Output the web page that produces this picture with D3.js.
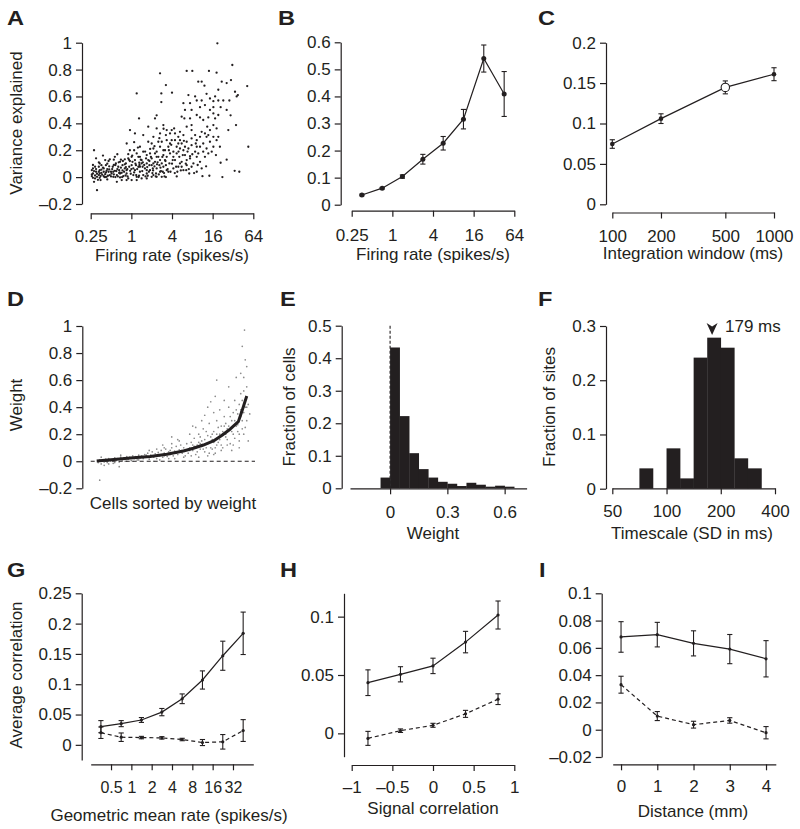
<!DOCTYPE html>
<html><head><meta charset="utf-8">
<script src="https://cdn.jsdelivr.net/npm/d3@7"></script>
<style>body{margin:0;background:#fff}svg{display:block}</style>
</head><body><svg id="c" width="800" height="829"></svg>
<script>
// ---------- DATA ----------
// A: variance explained vs firing rate (one point per cell)
const scatterA = [
[18.8,0.995],[31.3,0.834],[29.9,0.722],[14.1,0.79],[18.3,0.777],[6.6,0.79],[8.0,0.79],[2.66,0.772],[3.25,0.685],[2.78,0.623],[1.2,0.623],[4.0,0.628],[2.78,0.558],[52,0.677],[54,0.226],[35.5,0.387],[33.9,0.047],[39.7,0.04],[22.3,0.0],[14.3,0.01],[11.3,0.007],[21,0.107],[25.8,0.13],[27.3,0.35],[29.5,0.46],[25.8,0.5],[28.3,0.57],[21,0.52],[19.4,0.57],[16.4,0.565],[14.6,0.585],[17.4,0.6],[13.0,0.62],[11.0,0.57],[9.3,0.57],[8.8,0.6],[9.8,0.71],[11.0,0.71],[12.1,0.68],[19.4,0.65],[21.8,0.71],[25.8,0.70],[34.3,0.635],[36.3,0.6],[37.8,0.61],[23.0,0.57],[7.8,0.5],[7.4,0.55],[7.0,0.61],[7.4,0.437],[6.1,0.437],[10.4,0.444],[13.8,0.444],[16.4,0.474],[17.4,0.437],[19.4,0.462],[13.3,0.375],[16.4,0.387],[11.0,0.337],[12.3,0.325],[13.8,0.313],[16.4,0.3],[18.3,0.275],[9.3,0.275],[7.8,0.288],[7.8,0.238],[10.4,0.226],[13.0,0.213],[16.4,0.226],[15.5,0.189],[17.9,0.164],[12.3,0.151],[9.3,0.151],[7.4,0.156],[6.6,0.127],[5.56,0.114],[8.3,0.102],[10.4,0.114],[13.8,0.176],[11.0,0.065],[9.3,0.04],[7.8,0.077],[6.6,0.089],[5.9,0.052],[4.8,0.04],[4.19,0.065],[3.53,0.04],[3.25,0.0],[2.98,0.164],[4.19,0.189],[2.37,0.362],[2.98,0.387],[3.34,0.35],[3.96,0.35],[4.3,0.362],[2.66,0.325],[2.37,0.46],[2.24,0.437],[1.3,0.437],[1.78,0.375],[2.12,0.3],[1.5,0.313],[0.955,0.35],[1.13,0.325],[0.853,0.25],[1.34,0.226],[5.56,0.45],[5.9,0.55],[6.23,0.5],[5.25,0.337],[4.96,0.3],[6.6,0.375],[6.23,0.226],[5.56,0.25],[4.69,0.226],[3.74,0.25],[3.34,0.275],[3.53,0.226],[3.15,0.2],[2.66,0.226],[2.37,0.189],[2.12,0.213],[1.89,0.176],[1.69,0.164],[1.5,0.189],[1.34,0.151],[1.2,0.176],
[0.26,0.007],[0.27,0.027],[0.29,-0.01],[0.31,0.002],[0.33,0.015],[0.34,-0.005],[0.36,0.032],[0.39,0.007],[0.41,0.022],[0.43,0.002],[0.46,0.04],[0.48,0.015],[0.27,0.065],[0.28,-0.035],[0.31,-0.097],[0.30,0.04],[0.34,0.052],[0.35,-0.022],[0.39,0.065],[0.42,0.089],[0.44,-0.017],[0.47,0.057],[0.51,0.027],[0.54,0.002],[0.57,0.047],[0.61,0.015],[0.64,0.077],[0.68,-0.002],[0.72,0.032],[0.76,0.007],[0.80,0.065],[0.85,0.027],[0.90,-0.01],[0.96,0.047],[1.01,0.089],[1.07,0.015],[1.13,0.052],[1.2,0.002],[1.27,0.077],[1.34,0.04],[1.42,0.102],[1.5,0.015],[1.59,0.065],[1.69,0.027],[1.78,0.127],[1.89,0.052],[2.0,0.089],[2.12,0.015],[2.24,0.114],[2.37,0.065],[2.51,0.151],[2.66,0.04],[2.82,0.102],[2.98,0.077],[3.15,0.127],[3.34,0.052],[0.28,0.2],[0.34,0.102],[0.41,0.127],[0.48,0.132],[0.57,0.151],[0.68,0.114],[0.80,0.132],[0.90,0.171],[1.01,0.151],[1.13,0.127],[1.27,0.151],[1.42,0.127],[1.69,0.102],[2.0,0.139],[2.24,0.176],[0.26,0.052],[0.29,0.077],[0.33,0.077],[0.36,0.089],[0.39,0.04],[0.53,0.077],[0.59,0.102],[0.66,0.052],[0.74,0.089],[0.83,0.102],[0.93,0.077],[1.04,0.114],[1.17,0.089],[1.31,0.107],[1.47,0.077],[1.65,0.139],[1.85,0.089],[2.08,0.065],[2.32,0.027],[2.6,0.089],[2.92,0.04],[3.25,0.089],[3.66,0.102],[4.1,0.127],[4.6,0.077],[5.13,0.151],[5.78,0.164],[6.5,0.052],[7.2,0.027],[0.61,-0.035],[0.72,-0.022],[0.85,-0.022],[1.01,-0.022],[1.2,-0.022],[1.42,-0.01],[1.69,-0.01],[2.0,0.002],[2.37,0.002],[2.82,0.002],[0.34,0.027],[0.43,0.047],[0.54,0.04],[0.68,0.027],[0.85,0.052],[1.07,0.065],[1.34,0.077],[1.69,0.052],[2.12,0.102],[2.66,0.127],[3.34,0.151],[4.19,0.151],[5.25,0.102],[2.37,0.151],[2.98,0.2],[3.74,0.176],[4.69,0.176],[5.9,0.2],[3.96,0.275],[4.43,0.275],[5.25,0.275],[2.82,0.263],[2.51,0.263],[2.0,0.25],[1.78,0.263],[3.25,0.313],[3.74,0.325],[4.43,0.325],[5.9,0.313],[6.6,0.263],[7.0,0.213],[5.25,0.213],[4.43,0.127],[4.96,0.077],[5.56,0.077],[6.23,0.164],[7.4,0.139],[8.8,0.189],[9.8,0.176],[11.6,0.189],[9.3,0.226],[11.6,0.25],[14.6,0.263],[10.4,0.3],[8.8,0.313],[13.0,0.3],[14.6,0.35],[18.3,0.362],[19.4,0.3],[20.5,0.226],[11.6,0.425],[16.4,0.52],[12.3,0.536],[10.4,0.52],[14.6,0.5],[9.3,0.462],[7.8,0.387],[4.96,0.25],[7.8,0.35],
[0.26,0.02],[0.27,-0.005],[0.28,0.045],[0.29,0.012],[0.3,0.06],[0.31,0.025],[0.32,-0.02],[0.33,0.04],[0.35,0.008],[0.36,0.055],[0.37,0.018],[0.38,0.07],[0.4,0.0],[0.42,0.035],[0.44,0.06],[0.45,0.01],[0.47,0.08],[0.5,0.005],[0.52,0.06],[0.55,0.02],[0.58,0.09],[0.6,0.045],[0.63,0.005],[0.65,0.11],[0.67,0.035],[0.7,0.07],[0.73,0.0],[0.75,0.12],[0.78,0.04],[0.8,0.095],[0.82,0.012],[0.87,0.06],[0.92,0.13],[0.98,0.025],[1.03,0.16],[1.1,0.035],[1.15,0.1],[1.22,0.06],[1.28,0.0],[1.38,0.13],[1.45,0.045],[1.55,0.09],[1.62,0.005],[1.72,0.075],[1.82,0.04],[1.95,0.15],[2.05,0.03],[2.2,0.08],[2.3,0.005],[2.45,0.11],[2.55,0.02],[2.7,0.07],[2.88,0.15],[3.05,0.03],[3.2,0.12],[3.45,0.06],[0.3,0.14],[0.38,0.16],[0.46,0.12],[0.55,0.13],[0.62,0.17],[0.7,0.13],[0.95,0.2],[1.1,0.2],[1.25,0.22],[0.55,0.09],[0.9,0.14],[1.6,0.19],[1.9,0.21],[2.2,0.23],[3.6,0.2],[4.0,0.1],[4.4,0.03],[3.9,0.24],[5.0,0.19],[6.0,0.27],[6.4,0.1],[7.1,0.06],[8.0,0.17],[8.5,0.03],[9.0,0.25],[4.7,0.005],[2.6,0.29],[3.0,0.36],[1.1,0.26],[0.95,0.12],[1.3,0.01],[0.62,0.06],[0.44,0.1],[0.27,0.09],[0.33,0.11],[0.41,0.0],[0.5,0.04],[0.58,0.0],[0.66,0.03],[0.74,0.05],[0.83,0.075],[0.88,0.005],[1.0,0.06],[1.18,0.015],[1.32,0.09],[1.48,0.11],[1.75,0.01],[1.85,0.12],[2.1,0.05],[2.4,0.095],[2.75,0.045],[3.1,0.005],[3.8,0.04],[5.4,0.05],[6.8,0.19],[9.6,0.09],[12.8,0.08]
];
const ticksA_x = [0.25, 1, 4, 16, 64];
const ticksA_y = [-0.2, 0, 0.2, 0.4, 0.6, 0.8, 1];

// B: binned variance explained
const rateBins = [0.354, 0.707, 1.41, 2.83, 5.66, 11.3, 22.6, 45.3];
const varB = [0.036, 0.061, 0.104, 0.168, 0.227, 0.316, 0.540, 0.409];
const errB = [0.003, 0.003, 0.006, 0.018, 0.025, 0.036, 0.050, 0.083];
const ticksB_y = [0, 0.1, 0.2, 0.3, 0.4, 0.5, 0.6];

// C: integration window
const windowC = [100, 200, 500, 1000];
const varC = [0.0746, 0.106, 0.1447, 0.161];
const errC = [0.0053, 0.006, 0.008, 0.008];
const openC = [false, false, true, false];
const ticksC_x = [100, 200, 500, 1000];
const ticksC_y = [0, 0.05, 0.1, 0.15, 0.2];

// D: weights, cells sorted by weight (rank 0..1)
const rankD = [0, 0.133, 0.244, 0.356, 0.467, 0.578, 0.644, 0.711, 0.778, 0.833, 0.889, 0.944, 0.967, 1.0];
const weightD = [0.002, 0.015, 0.025, 0.035, 0.052, 0.076, 0.096, 0.12, 0.15, 0.19, 0.237, 0.293, 0.367, 0.483];
const scatterD = [
[0.01,-0.01],[0.02,0.01],[0.03,-0.02],[0.02,-0.14],[0.04,0.005],[0.05,-0.005],[0.06,0.015],[0.07,-0.01],[0.08,0.02],[0.09,0.0],[0.1,0.01],[0.11,-0.015],[0.12,0.025],[0.13,0.005],[0.14,0.02],[0.15,-0.005],[0.16,0.03],[0.17,0.01],[0.18,0.025],[0.19,0.0],[0.2,0.035],[0.21,0.015],[0.22,0.03],[0.23,0.005],[0.24,0.04],[0.25,0.02],[0.26,0.035],[0.27,0.01],[0.28,0.045],[0.29,0.025],[0.3,0.04],[0.03,0.03],[0.05,-0.03],[0.08,-0.02],[0.12,-0.01],[0.16,0.045],[0.2,0.0],[0.24,0.0],[0.28,0.01],[0.15,-0.04],
[0.31,0.02],[0.32,0.05],[0.33,0.03],[0.34,0.06],[0.35,0.015],[0.36,0.045],[0.37,0.07],[0.38,0.03],[0.39,0.055],[0.4,0.02],[0.41,0.065],[0.42,0.04],[0.43,0.08],[0.44,0.03],[0.45,0.06],[0.46,0.09],[0.47,0.035],[0.48,0.07],[0.49,0.05],[0.5,0.1],[0.51,0.04],[0.52,0.075],[0.53,0.11],[0.54,0.05],[0.55,0.085],[0.56,0.12],[0.57,0.06],[0.58,0.1],[0.59,0.04],[0.6,0.13],[0.35,0.08],[0.4,0.09],[0.45,0.1],[0.5,0.13],[0.55,0.15],[0.38,0.0],[0.42,0.01],[0.48,0.02],[0.52,0.02],[0.58,0.03],[0.44,0.12],[0.54,0.16],[0.5,0.18],
[0.61,0.06],[0.62,0.1],[0.63,0.14],[0.64,0.08],[0.65,0.17],[0.66,0.05],[0.67,0.12],[0.68,0.2],[0.69,0.09],[0.7,0.15],[0.71,0.24],[0.72,0.07],[0.73,0.13],[0.74,0.19],[0.75,0.28],[0.76,0.1],[0.77,0.16],[0.78,0.22],[0.79,0.06],[0.8,0.3],[0.62,0.2],[0.66,0.25],[0.7,0.3],[0.72,0.34],[0.74,0.4],[0.76,0.44],[0.78,0.36],[0.8,0.6],[0.79,0.48],[0.68,0.03],[0.74,0.04],[0.64,0.26],[0.77,0.09],[0.73,0.22],[0.69,0.18],[0.65,0.11],[0.8,0.12],[0.78,0.05],
[0.81,0.14],[0.82,0.2],[0.83,0.26],[0.84,0.1],[0.85,0.33],[0.86,0.18],[0.87,0.24],[0.88,0.4],[0.89,0.13],[0.9,0.3],[0.91,0.2],[0.92,0.45],[0.93,0.26],[0.94,0.35],[0.95,0.15],[0.96,0.5],[0.97,0.3],[0.98,0.62],[0.99,0.4],[1.0,0.55],[0.97,0.85],[0.985,0.97],[0.99,0.75],[0.96,0.65],[0.93,0.62],[0.88,0.55],[0.85,0.45],[0.82,0.38],[0.9,0.08],[0.95,0.1],[0.98,0.2],[1.0,0.3],[0.94,0.22],[0.87,0.12],[0.92,0.17],[0.96,0.38],[0.99,0.45],[1.01,0.42],[1.0,0.7],[0.98,0.52],[0.91,0.36],[0.86,0.28],[0.83,0.08],[0.95,0.42],[0.97,0.24],[1.02,0.35],[1.01,0.15],
[0.62,0.08],[0.64,0.12],[0.66,0.1],[0.68,0.14],[0.7,0.11],[0.72,0.16],[0.74,0.13],[0.76,0.18],[0.78,0.14],[0.8,0.2],[0.82,0.16],[0.84,0.22],[0.86,0.2],[0.88,0.26],[0.9,0.22],[0.92,0.3],[0.94,0.27],[0.96,0.33],[0.98,0.36],[1.0,0.4],[0.63,0.04],[0.67,0.07],[0.71,0.09],[0.75,0.06],[0.79,0.1],[0.83,0.12],[0.87,0.16],[0.91,0.12],[0.95,0.2],[0.99,0.25],[0.85,0.26],[0.89,0.33],[0.93,0.38],[0.97,0.45],[0.81,0.25],[0.77,0.2],[0.73,0.1],[0.69,0.13],[0.57,0.08],[0.53,0.06],[0.49,0.08],[0.45,0.04],[0.41,0.05],[0.37,0.04],[0.33,0.045],[0.29,0.035]
];
const ticksD_y = [-0.2, 0, 0.2, 0.4, 0.6, 0.8, 1];

// E: histogram of weights
const binStartE = [-0.05, 0, 0.05, 0.1, 0.15, 0.2, 0.25, 0.3, 0.35, 0.4, 0.45, 0.5, 0.55, 0.6];
const binWidthE = 0.05;
const fracE = [0.033, 0.433, 0.222, 0.108, 0.059, 0.033, 0.02, 0.014, 0.007, 0.017, 0.011, 0.005, 0.008, 0.005];
const ticksE_x = [0, 0.3, 0.6];
const ticksE_y = [0, 0.1, 0.2, 0.3, 0.4, 0.5];

// F: histogram of timescales (bin edges in ms)
const binEdgesF = [70.7, 84.1, 100, 118.9, 141.4, 168.2, 200, 237.8, 282.8, 336.4];
const fracF = [0.0375, 0, 0.0744, 0.019, 0.2417, 0.2785, 0.26, 0.056, 0.0375];
const medianF = 179;
const ticksF_x = [50, 100, 200, 400];
const ticksF_y = [0, 0.1, 0.2, 0.3];

// G: correlation vs geometric mean rate
const rateG = [0.354, 0.707, 1.41, 2.83, 5.66, 11.3, 22.6, 45.3];
const solidG = [0.030, 0.035, 0.041, 0.054, 0.076, 0.107, 0.147, 0.184];
const solidErrG = [0.010, 0.005, 0.004, 0.006, 0.008, 0.015, 0.024, 0.035];
const dashG = [0.020, 0.0126, 0.012, 0.0115, 0.0088, 0.0038, 0.005, 0.0236];
const dashErrG = [0.0095, 0.007, 0.002, 0.002, 0.002, 0.005, 0.012, 0.018];
const ticksG_x = [0.5, 1, 2, 4, 8, 16, 32];
const ticksG_y = [0, 0.05, 0.1, 0.15, 0.2, 0.25];

// H: correlation vs signal correlation
const sigH = [-0.8, -0.4, 0, 0.4, 0.8];
const solidH = [0.0434, 0.0506, 0.0578, 0.0782, 0.1014];
const solidErrH = [0.011, 0.0065, 0.0066, 0.0092, 0.012];
const dashH = [-0.0043, 0.0023, 0.0069, 0.0167, 0.0293];
const dashErrH = [0.006, 0.0015, 0.0017, 0.003, 0.0046];
const ticksH_x = [-1, -0.5, 0, 0.5, 1];
const ticksH_y = [0, 0.05, 0.1];

// I: correlation vs distance
const distI = [0, 1, 2, 3, 4];
const solidI = [0.068, 0.0697, 0.0633, 0.0591, 0.052];
const solidErrI = [0.0112, 0.009, 0.0092, 0.0107, 0.0133];
const dashI = [0.033, 0.01, 0.0037, 0.0068, -0.0022];
const dashErrI = [0.0062, 0.0033, 0.0025, 0.002, 0.0045];
const ticksI_x = [0, 1, 2, 3, 4];
const ticksI_y = [-0.02, 0, 0.02, 0.04, 0.06, 0.08, 0.1];

// ---------- DRAWING ----------
const INK = '#231f20';
const FONT = '"Liberation Sans", Arial, Helvetica, sans-serif';
const FS = 17;
const svg = d3.select('#c');
const lab = d => d < 0 ? '\u2013' + Math.abs(d) : String(d);

function styleAxis(g) {
  g.attr('font-family', null).attr('font-size', null);
  g.selectAll('path,line').attr('stroke', INK).attr('stroke-width', 1.2);
  g.selectAll('text').attr('font-size', FS).attr('font-family', FONT).attr('fill', INK);
}
function leftAxis(scale, x, ticks) {
  const g = svg.append('g').attr('transform', `translate(${x},0)`)
    .call(d3.axisLeft(scale).tickValues(ticks).tickFormat(lab).tickSize(6).tickSizeOuter(0).tickPadding(4));
  styleAxis(g);
}
function bottomAxis(scale, y, ticks, pad) {
  const g = svg.append('g').attr('transform', `translate(0,${y})`)
    .call(d3.axisBottom(scale).tickValues(ticks).tickFormat(lab).tickSize(6).tickSizeOuter(0).tickPadding(pad));
  styleAxis(g);
  return g;
}
function text(x, y, s, opts = {}) {
  const t = svg.append('text').attr('x', x).attr('y', y).text(s)
    .attr('font-family', FONT).attr('font-size', opts.size || FS).attr('fill', INK)
    .attr('text-anchor', opts.anchor || 'middle');
  if (opts.rotate) t.attr('transform', `rotate(-90,${x},${y})`);
  return t;
}
function letter(x, y, s) {
  svg.append('text').attr('transform', `translate(${x},${y}) scale(1.18,1)`).text(s)
    .attr('font-family', FONT).attr('font-size', 20).attr('font-weight', 'bold').attr('fill', INK);
}
function series(xs, ys, es, xS, yS, dashed, r) {
  const g = svg.append('g');
  const line = d3.line().x((d, i) => xS(xs[i])).y(d => yS(d));
  g.append('path').attr('d', line(ys)).attr('fill', 'none').attr('stroke', INK)
    .attr('stroke-width', 1.2).attr('stroke-dasharray', dashed ? '4,3' : null);
  if (es) xs.forEach((xv, i) => {
    const x = xS(xv), y0 = yS(ys[i] - es[i]), y1 = yS(ys[i] + es[i]);
    g.append('line').attr('x1', x).attr('x2', x).attr('y1', y0).attr('y2', y1).attr('stroke', INK).attr('stroke-width', 1.1);
    [y0, y1].forEach(yy => g.append('line').attr('x1', x - 2.6).attr('x2', x + 2.6).attr('y1', yy).attr('y2', yy).attr('stroke', INK).attr('stroke-width', 1.1));
  });
  xs.forEach((xv, i) => g.append('circle').attr('cx', xS(xv)).attr('cy', yS(ys[i])).attr('r', r || 1.8).attr('fill', INK));
  return g;
}

// ===== A =====
{
  const x = d3.scaleLog().base(2).domain([0.25, 64]).range([90.7, 253.3]);
  const y = d3.scaleLinear().domain([-0.2, 1]).range([204, 42.7]);
  svg.append('g').selectAll('circle').data(scatterA).join('circle')
    .attr('cx', d => x(d[0])).attr('cy', d => y(d[1])).attr('r', 1.15).attr('fill', INK);
  leftAxis(y, 82, ticksA_y);
  bottomAxis(x, 213.3, ticksA_x, 11);
  text(22, 123, 'Variance explained', {rotate: true});
  text(172, 260.5, 'Firing rate (spikes/s)');
  letter(7, 25, 'A');
}
// ===== B =====
{
  const x = d3.scaleLog().base(2).domain([0.25, 64]).range([351.7, 514.3]);
  const y = d3.scaleLinear().domain([0, 0.6]).range([204.7, 42.3]);
  series(rateBins, varB, errB, x, y, false, 2.5);
  leftAxis(y, 340.7, ticksB_y);
  bottomAxis(x, 210.7, ticksA_x, 12);
  text(433, 260, 'Firing rate (spikes/s)');
  letter(278, 25, 'B');
}
// ===== C =====
{
  const x = d3.scaleLog().domain([100, 1000]).range([612.3, 774]);
  const y = d3.scaleLinear().domain([0, 0.2]).range([204.3, 42.7]);
  const g = series(windowC, varC, errC, x, y, false, 2.3);
  windowC.forEach((w, i) => { if (openC[i]) g.append('circle').attr('cx', x(w)).attr('cy', y(varC[i])).attr('r', 4.2).attr('fill', '#fff').attr('stroke', INK).attr('stroke-width', 1.1); });
  leftAxis(y, 606, ticksC_y);
  bottomAxis(x, 212.5, ticksC_x, 11);
  text(693, 259, 'Integration window (ms)');
  letter(538, 25, 'C');
}
// ===== D =====
{
  const x = d3.scaleLinear().domain([-0.04, 1.055]).range([90.7, 255]);
  const y = d3.scaleLinear().domain([-0.2, 1]).range([488.3, 326]);
  svg.append('g').selectAll('circle').data(scatterD).join('circle')
    .attr('cx', d => x(d[0])).attr('cy', d => y(d[1])).attr('r', 0.85).attr('fill', '#8c8c8c');
  svg.append('line').attr('x1', x(-0.04)).attr('x2', x(1.055)).attr('y1', y(0)).attr('y2', y(0))
    .attr('stroke', INK).attr('stroke-width', 1.1).attr('stroke-dasharray', '4,3');
  const line = d3.line().x((d, i) => x(rankD[i])).y(d => y(d));
  svg.append('path').attr('d', line(weightD)).attr('fill', 'none').attr('stroke', INK)
    .attr('stroke-width', 3).attr('stroke-linejoin', 'round');
  leftAxis(y, 82.3, ticksD_y);
  text(22, 405, 'Weight', {rotate: true});
  text(173, 509, 'Cells sorted by weight');
  letter(7, 306, 'D');
}
// ===== E =====
{
  const x = d3.scaleLinear().domain([-0.21, 0.715]).range([350, 526.6]);
  const y = d3.scaleLinear().domain([0, 0.5]).range([488.3, 325.7]);
  svg.append('line').attr('x1', x(0)).attr('x2', x(0)).attr('y1', y(0.5)).attr('y2', y(0))
    .attr('stroke', INK).attr('stroke-width', 1.1).attr('stroke-dasharray', '3,2');
  svg.append('g').selectAll('rect').data(binStartE).join('rect')
    .attr('x', d => x(d)).attr('width', d => x(d + binWidthE) - x(d) + 0.3)
    .attr('y', (d, i) => y(fracE[i])).attr('height', (d, i) => y(0) - y(fracE[i]))
    .attr('fill', INK);
  leftAxis(y, 341.7, ticksE_y);
  bottomAxis(x, 488.3, ticksE_x, 12);
  text(295, 407, 'Fraction of cells', {rotate: true});
  text(433, 539, 'Weight');
  letter(280, 306, 'E');
}
// ===== F =====
{
  const x = d3.scaleLog().base(2).domain([50, 400]).range([612.3, 775]);
  const y = d3.scaleLinear().domain([0, 0.3]).range([488.7, 326]);
  svg.append('g').selectAll('rect').data(fracF).join('rect')
    .attr('x', (d, i) => x(binEdgesF[i])).attr('width', (d, i) => x(binEdgesF[i + 1]) - x(binEdgesF[i]) + 0.3)
    .attr('y', d => y(d)).attr('height', d => y(0) - y(d)).attr('fill', INK);
  const mx = x(medianF);
  svg.append('path').attr('d', `M${mx - 5.5},323 L${mx},326.5 L${mx + 5.5},323 L${mx},335 Z`).attr('fill', INK);
  text(725, 331.5, medianF + ' ms', {anchor: 'start'});
  leftAxis(y, 606, ticksF_y);
  bottomAxis(x, 488.3, ticksF_x, 10.5);
  text(555, 407, 'Fraction of sites', {rotate: true});
  text(692, 539, 'Timescale (SD in ms)');
  letter(538, 306, 'F');
}
// ===== G =====
{
  const x = d3.scaleLog().base(2).domain([0.25, 64]).range([90.7, 253.3]);
  const y = d3.scaleLinear().domain([-0.025, 0.25]).range([760, 593.3]);
  series(rateG, dashG, dashErrG, x, y, true, 1.6);
  series(rateG, solidG, solidErrG, x, y, false, 1.6);
  leftAxis(y, 81.7, ticksG_y);
  const gx = bottomAxis(x, 764.3, ticksG_x, 11);
  gx.selectAll('text').attr('font-size', 16);
  text(22, 675, 'Average correlation', {rotate: true});
  text(169, 821, 'Geometric mean rate (spikes/s)');
  letter(7, 577, 'G');
}
// ===== H =====
{
  const x = d3.scaleLinear().domain([-1, 1]).range([351.7, 514.3]);
  const y = d3.scaleLinear().domain([-0.02, 0.12]).range([756.7, 593.3]);
  series(sigH, dashH, dashErrH, x, y, true, 1.6);
  series(sigH, solidH, solidErrH, x, y, false, 1.6);
  leftAxis(y, 344, ticksH_y);
  bottomAxis(x, 765, ticksH_x, 9.5);
  text(433, 814, 'Signal correlation');
  letter(280, 577, 'H');
}
// ===== I =====
{
  const x = d3.scaleLinear().domain([-0.23, 4.27]).range([612.7, 775.8]);
  const y = d3.scaleLinear().domain([-0.02, 0.1]).range([757, 593.3]);
  series(distI, dashI, dashErrI, x, y, true, 1.6);
  series(distI, solidI, solidErrI, x, y, false, 1.6);
  leftAxis(y, 601.7, ticksI_y);
  bottomAxis(x, 764.3, ticksI_x, 10);
  text(693, 817, 'Distance (mm)');
  letter(539, 577, 'I');
}
</script></body></html>
